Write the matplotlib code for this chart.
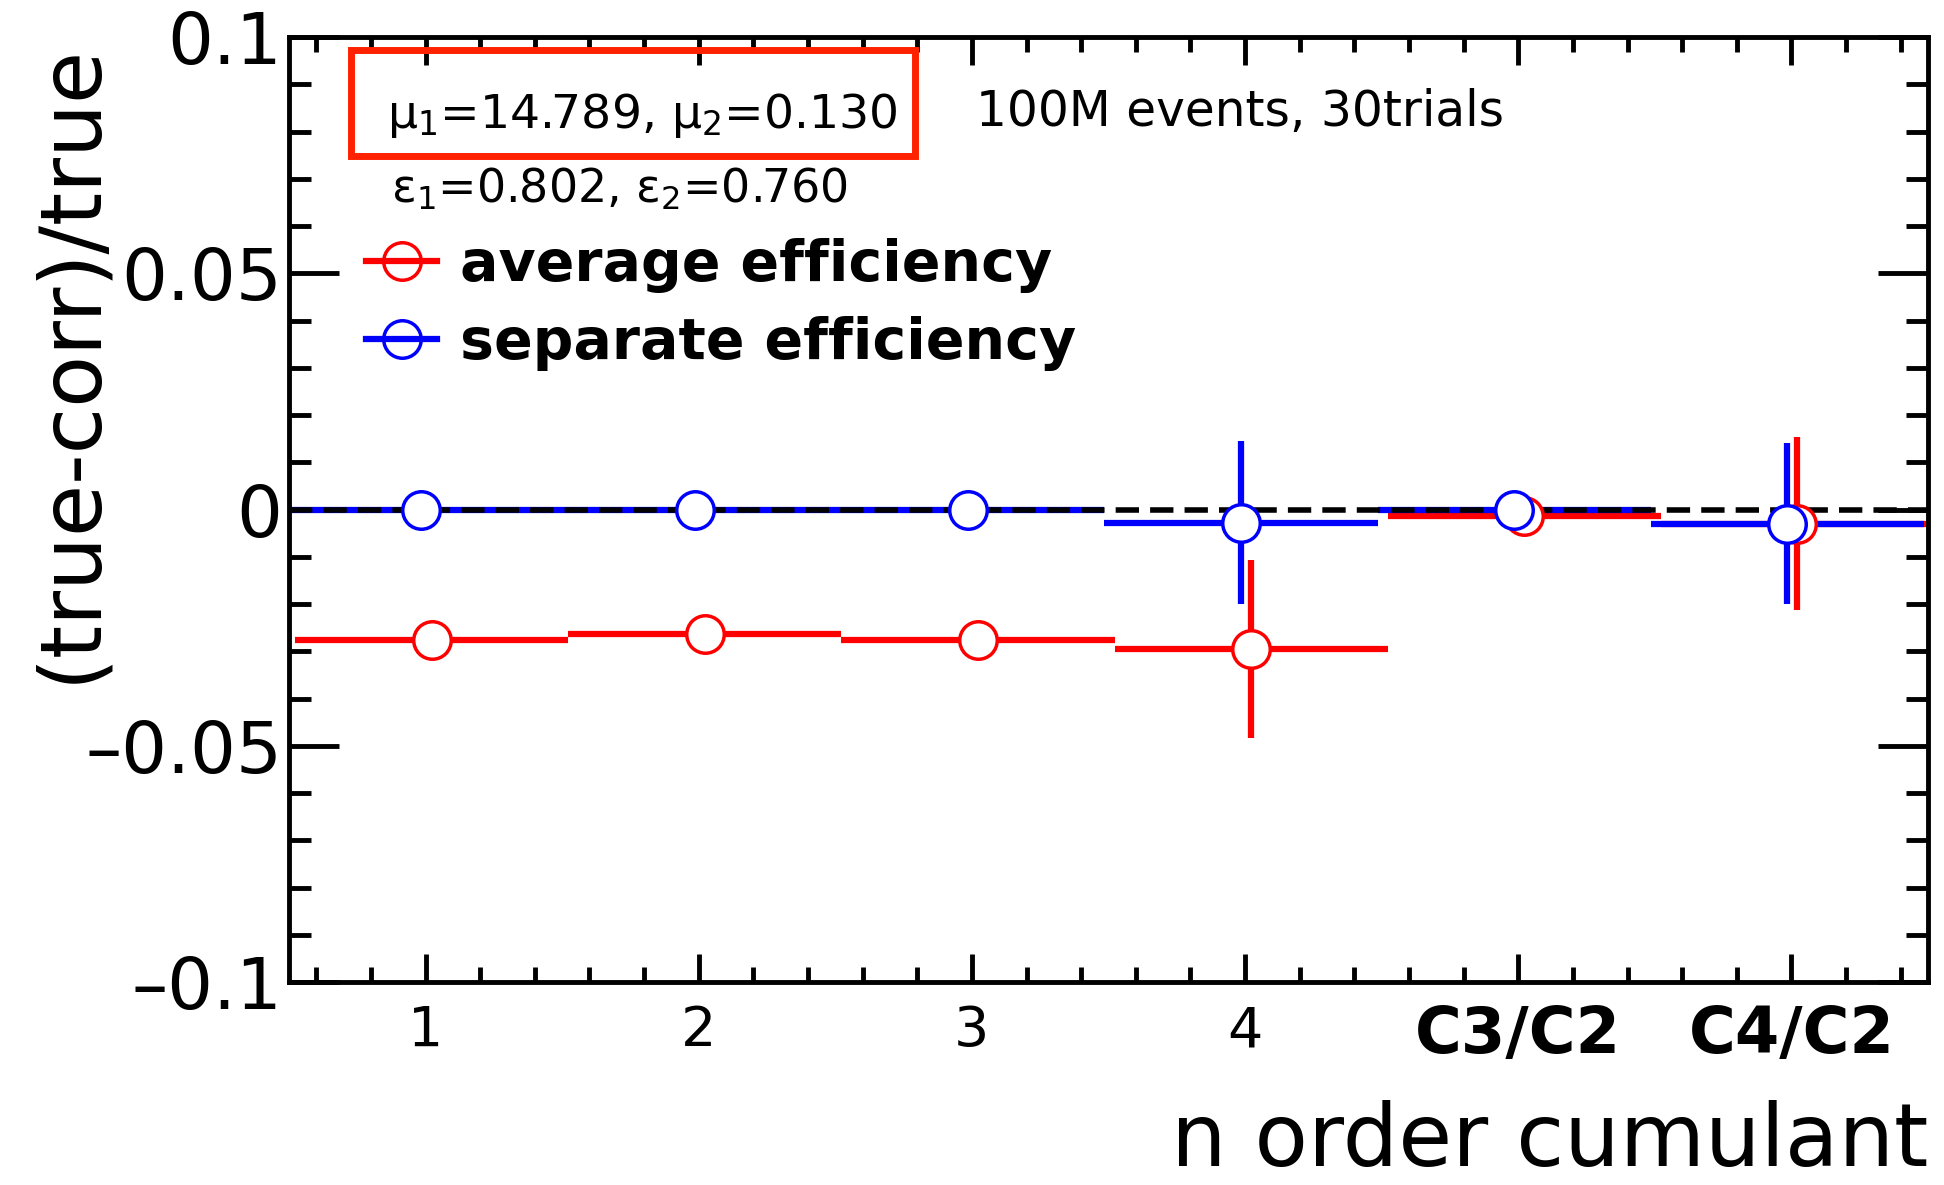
import numpy as np
import matplotlib.pyplot as plt
from matplotlib.lines import Line2D
from matplotlib.patches import Rectangle
from matplotlib.ticker import MultipleLocator, FuncFormatter

# ====================================================
# data
categories = ['1', '2', '3', '4', 'C3/C2', 'C4/C2']
avg_eff = [-0.0277, -0.0264, -0.0277, -0.0295, -0.0013, -0.0030]
avg_err = [0.0005, 0.0005, 0.0005, 0.0188, 0.0005, 0.0183]
sep_eff = [0.0, 0.0, 0.0, -0.0028, 0.0, -0.0030]
sep_err = [0.0003, 0.0003, 0.0003, 0.0172, 0.0004, 0.0171]

RED = '#ff0000'
BLUE = '#0000ff'

# ====================================================
def ytick_fmt(v, pos):
	s = '%g' % round(v, 3)
	return s.replace('-', '\u2013')

# ====================================================
def main():
	W, H = 1944, 1185
	fig = plt.figure(figsize=(W / 100, H / 100), dpi=100)
	ax = fig.add_axes([289 / W, 1 - 982 / H, (1928 - 289) / W, (982 - 37) / H])

	x = np.arange(1, len(categories) + 1)

	# error bars (red first, blue on top)
	ax.errorbar(x + 0.022, avg_eff, xerr=0.5, yerr=avg_err, fmt='none',
				ecolor=RED, elinewidth=4.5, capsize=0, zorder=2)
	ax.errorbar(x - 0.015, sep_eff, xerr=0.5, yerr=sep_err, fmt='none',
				ecolor=BLUE, elinewidth=4.5, capsize=0, zorder=2.1)

	# reference line
	ax.axhline(0, color='black', lw=4, ls=(0, (4.2, 2)), zorder=3)

	# open markers
	ax.plot(x + 0.022, avg_eff, 'o', ms=27, mfc='white', mec=RED, mew=2.5, zorder=4)
	ax.plot(x - 0.015, sep_eff, 'o', ms=27, mfc='white', mec=BLUE, mew=2.5, zorder=4.1)

	ax.set_xlim(0.5, 6.5)
	ax.set_ylim(-0.1, 0.1)

	# ticks
	ax.set_xticks(x)
	ax.set_xticklabels(categories)
	ax.xaxis.set_minor_locator(MultipleLocator(0.2))
	ax.yaxis.set_major_locator(MultipleLocator(0.05))
	ax.yaxis.set_minor_locator(MultipleLocator(0.01))
	ax.yaxis.set_major_formatter(FuncFormatter(ytick_fmt))
	ax.tick_params(which='both', direction='in', top=True, right=True, width=3.5)
	ax.tick_params(axis='x', which='major', length=20, labelsize=40, pad=16)
	ax.tick_params(axis='x', which='minor', length=11)
	ax.tick_params(axis='y', which='major', length=36, labelsize=52, pad=5)
	ax.tick_params(axis='y', which='minor', length=16)
	for lab in ax.get_xticklabels():
		if '/' in lab.get_text():
			lab.set_fontweight('bold')
			lab.set_fontsize(46)
	for s in ax.spines.values():
		s.set_linewidth(3.5)

	# axis titles, ROOT style
	fig.text(71 / W, 1 - 43 / H, '(true-corr)/true', rotation=90,
			 ha='center', va='top', fontsize=61)
	fig.text(1928 / W, 0.001, 'n order cumulant',
			 ha='right', va='bottom', fontsize=63)

	# annotations
	fig.text(387 / W, 1 - 128 / H, 'μ$_1$=14.789, μ$_2$=0.130',
			 ha='left', va='baseline', fontsize=34)
	fig.text(976 / W, 1 - 126 / H, '100M events, 30trials',
			 ha='left', va='baseline', fontsize=35)
	fig.text(391 / W, 1 - 202 / H, 'ε$_1$=0.802, ε$_2$=0.760',
			 ha='left', va='baseline', fontsize=33)
	fig.patches.append(Rectangle((351 / W, 1 - 156 / H), (915 - 351) / W, (156 - 50) / H,
								 transform=fig.transFigure, fill=False,
								 edgecolor='#ff2200', lw=5))

	# legend
	handles = [
		Line2D([], [], color=RED, lw=4.5, marker='o', ms=27, mfc='none', mec=RED, mew=2.5),
		Line2D([], [], color=BLUE, lw=4.5, marker='o', ms=27, mfc='none', mec=BLUE, mew=2.5),
	]
	ax.legend(handles, ['average efficiency', 'separate efficiency'],
			  loc='upper left', bbox_to_anchor=(366 / W, 1 - 238 / H),
			  bbox_transform=fig.transFigure, frameon=False,
			  prop={'size': 41, 'weight': 'bold'}, handlelength=1.25,
			  handletextpad=0.4, labelspacing=0.41, borderpad=0, borderaxespad=0)

	fig.savefig('out.png', dpi=100)

# ====================================================
if __name__ == "__main__":
	main()
